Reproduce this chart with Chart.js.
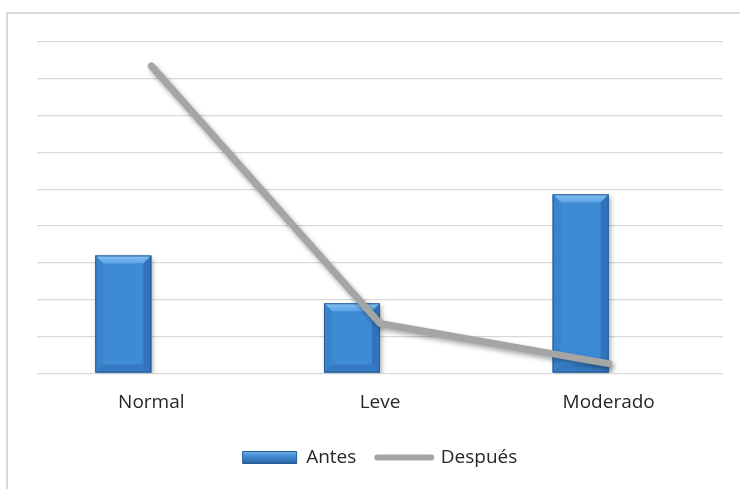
<!DOCTYPE html>
<html>
<head>
<meta charset="utf-8">
<script src="https://cdn.jsdelivr.net/npm/chart.js@4/dist/chart.umd.min.js"></script>
<style>
  html, body { margin: 0; padding: 0; background: #ffffff; }
  #wrap { width: 740px; height: 489px; position: relative; }
</style>
</head>
<body>
<div id="wrap"><canvas id="c" width="740" height="489"></canvas></div>
<script>
// Categories and series
const categories = ['Normal', 'Leve', 'Moderado'];
const antes = [32, 19, 48.6];
const despues = [83.5, 13.5, 2.6];
const yTicks = [0, 10, 20, 30, 40, 50, 60, 70, 80, 90];

const BAR_BLUE = '#3F8AD5';
const BAR_EDGE = '#265C8F';
const LINE_GREY = '#A5A5A5';
const GRID = '#D9D9D9';

// White background and the light frame around the chart
const framePlugin = {
  id: 'frame',
  beforeDraw(chart) {
    const ctx = chart.ctx;
    ctx.save();
    ctx.fillStyle = '#ffffff';
    ctx.fillRect(0, 0, chart.width, chart.height);
    ctx.strokeStyle = GRID;
    ctx.lineWidth = 2;
    ctx.strokeRect(7, 13, chart.width + 10, chart.height + 10);
    ctx.restore();
  }
};

// Soft drop shadow under the bars and the line
const shadowPlugin = {
  id: 'shadow',
  beforeDatasetDraw(chart, args) {
    const ctx = chart.ctx;
    ctx.save();
    ctx.shadowColor = 'rgba(0,0,0,0.35)';
    ctx.shadowBlur = 5;
    ctx.shadowOffsetX = 2;
    ctx.shadowOffsetY = 3;
  },
  afterDatasetDraw(chart) {
    chart.ctx.restore();
  }
};

// Bevelled look on the bars, drawn over each bar element
const bevelPlugin = {
  id: 'bevel',
  afterDatasetDraw(chart, args) {
    const ds = chart.data.datasets[args.index];
    if (ds.type !== 'bar' || !ds.bevel) return;
    const ctx = chart.ctx;
    args.meta.data.forEach(el => {
      if (el.skip || el.y == null || isNaN(el.y)) return;
      const l = el.x - el.width / 2, r = el.x + el.width / 2;
      const t = Math.min(el.y, el.base), b = Math.max(el.y, el.base);
      const bv = Math.min(8, (b - t) / 2);
      ctx.save();
      // top face
      let g = ctx.createLinearGradient(0, t, 0, t + bv);
      g.addColorStop(0, '#86C3F4');
      g.addColorStop(1, '#5BA2E6');
      ctx.fillStyle = g;
      ctx.beginPath();
      ctx.moveTo(l, t); ctx.lineTo(r, t); ctx.lineTo(r - bv, t + bv); ctx.lineTo(l + bv, t + bv);
      ctx.closePath(); ctx.fill();
      // left face
      ctx.fillStyle = '#3A83CD';
      ctx.beginPath();
      ctx.moveTo(l, t); ctx.lineTo(l + bv, t + bv); ctx.lineTo(l + bv, b - bv); ctx.lineTo(l, b);
      ctx.closePath(); ctx.fill();
      // right face
      ctx.fillStyle = '#3174BC';
      ctx.beginPath();
      ctx.moveTo(r, t); ctx.lineTo(r - bv, t + bv); ctx.lineTo(r - bv, b - bv); ctx.lineTo(r, b);
      ctx.closePath(); ctx.fill();
      // bottom face
      ctx.fillStyle = '#3579C2';
      ctx.beginPath();
      ctx.moveTo(l, b); ctx.lineTo(r, b); ctx.lineTo(r - bv, b - bv); ctx.lineTo(l + bv, b - bv);
      ctx.closePath(); ctx.fill();
      // outline
      ctx.strokeStyle = BAR_EDGE;
      ctx.lineWidth = 1;
      ctx.strokeRect(l + 0.5, t + 0.5, r - l - 1, b - t - 1);
      ctx.restore();
    });
  }
};

const ctx = document.getElementById('c').getContext('2d');

function legendBarFill(c) {
  const g = c.createLinearGradient(0, 450, 0, 463);
  g.addColorStop(0, '#8FC9F6');
  g.addColorStop(0.35, '#4A95DE');
  g.addColorStop(1, '#2C68A8');
  return g;
}

new Chart(ctx, {
  data: {
    labels: categories,
    datasets: [
      {
        type: 'bar',
        label: 'Antes',
        data: antes,
        backgroundColor: BAR_BLUE,
        borderWidth: 0,
        barPercentage: 1.0,
        categoryPercentage: 0.49,
        order: 2,
        bevel: true
      },
      {
        type: 'line',
        label: 'Después',
        data: despues,
        borderColor: LINE_GREY,
        borderWidth: 7,
        borderCapStyle: 'round',
        borderJoinStyle: 'round',
        tension: 0,
        pointRadius: 0,
        pointHoverRadius: 0,
        fill: false,
        order: 1
      },
      {
        // empty second slot of each bar cluster
        type: 'bar',
        label: '',
        data: [null, null, null],
        backgroundColor: 'rgba(0,0,0,0)',
        barPercentage: 1.0,
        categoryPercentage: 0.49,
        order: 3
      }
    ]
  },
  options: {
    responsive: false,
    animation: false,
    devicePixelRatio: 1,
    layout: { padding: { left: 37, right: 17, top: 42, bottom: 12 } },
    plugins: {
      tooltip: { enabled: false },
      legend: {
        position: 'bottom',
        labels: {
          usePointStyle: true,
          pointStyleWidth: 54,
          boxWidth: 54,
          boxHeight: 12,
          padding: 21,
          color: '#262626',
          font: { family: 'Open Sans', size: 19 },
          generateLabels(chart) {
            return [
              { text: 'Antes', pointStyle: 'rect', fillStyle: legendBarFill(chart.ctx),
                strokeStyle: BAR_EDGE, lineWidth: 1, datasetIndex: 0, fontColor: '#262626' },
              { text: 'Después', pointStyle: 'line', fillStyle: LINE_GREY,
                strokeStyle: LINE_GREY, lineWidth: 6, lineCap: 'round', datasetIndex: 1, fontColor: '#262626' }
            ];
          }
        }
      }
    },
    scales: {
      x: {
        offset: true,
        grid: { display: false },
        border: { display: false },
        ticks: { color: '#262626', font: { family: 'Open Sans', size: 19 }, padding: 10 },
        afterFit(axis) { axis.height += 3; }
      },
      y: {
        min: 0,
        max: 90,
        afterBuildTicks(axis) { axis.ticks = yTicks.map(v => ({ value: v })); },
        ticks: { display: false },
        grid: { color: GRID, lineWidth: 1.3, drawTicks: false },
        border: { display: false }
      }
    }
  },
  plugins: [framePlugin, shadowPlugin, bevelPlugin]
});
</script>
</body>
</html>
